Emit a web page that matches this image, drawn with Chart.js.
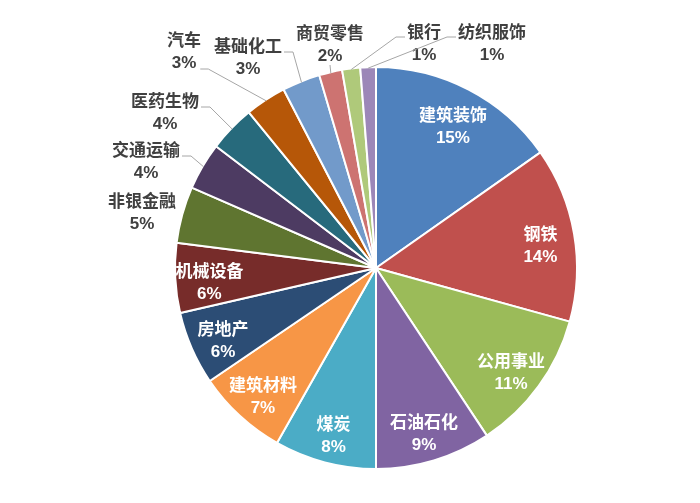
<!DOCTYPE html>
<html>
<head>
<meta charset="utf-8">
<script src="https://cdn.jsdelivr.net/npm/chart.js@4"></script>
<style>
  html, body { margin: 0; padding: 0; background: #fff; }
  #wrap { width: 700px; height: 503px; }
</style>
</head>
<body>
<div id="wrap"><canvas id="pieChart" width="700" height="503"></canvas></div>
<script>
// 行业占比 (%)，顺时针从 12 点开始
const sectors = ['建筑装饰', '钢铁', '公用事业', '石油石化', '煤炭', '建筑材料', '房地产', '机械设备',
                 '非银金融', '交通运输', '医药生物', '汽车', '基础化工', '商贸零售', '银行', '纺织服饰'];
const shares = [15.25, 14.05, 11.4, 9.3, 8.2, 7.3, 5.9, 5.6,
                4.55, 3.8, 3.75, 3.3, 3.05, 1.85, 1.45, 1.25];
const sliceColors = ['#4F81BD', '#C0504D', '#9BBB59', '#8064A2', '#4BACC6', '#F79646', '#2C4D75', '#772C2A',
                     '#5F7530', '#4D3B62', '#276A7C', '#B65708', '#729ACA', '#CD7371', '#AFC97A', '#9C87B8'];

// labels placed outside the pie: text centre offset from pie centre + leader side
const outside = {
    '非银金融': { dx: -234, dy: -66, lead: null },
    '交通运输': { dx: -230, dy: -117, lead: 'right' },
    '医药生物': { dx: -211, dy: -166, lead: 'right' },
    '汽车':     { dx: -192, dy: -227, lead: 'right2' },
    '基础化工': { dx: -128, dy: -221, lead: 'right' },
    '商贸零售': { dx: -46,  dy: -234, lead: 'below' },
    '银行':     { dx: 48,   dy: -235, lead: 'left' },
    '纺织服饰': { dx: 116,  dy: -235, lead: 'left' }
};

const FONT = 'bold 17px "Liberation Sans", "Noto Sans CJK SC", sans-serif';
const LINE_GAP = 22;

const labelPlugin = {
    id: 'sliceLabels',
    afterDatasetsDraw(chart) {
        const ctx = chart.ctx;
        const meta = chart.getDatasetMeta(0);
        const total = shares.reduce((a, b) => a + b, 0);
        ctx.save();
        ctx.font = FONT;
        ctx.textAlign = 'center';
        ctx.textBaseline = 'middle';
        meta.data.forEach((arc, i) => {
            const p = arc.getProps(['x', 'y', 'startAngle', 'endAngle', 'outerRadius'], true);
            const mid = (p.startAngle + p.endAngle) / 2;
            const name = sectors[i];
            const pct = Math.round(shares[i] / total * 100) + '%';
            const o = outside[name];
            if (!o) {
                const r = p.outerRadius * 0.83;
                const cx = p.x + Math.cos(mid) * r;
                const cy = p.y + Math.sin(mid) * r + 7;
                ctx.fillStyle = '#ffffff';
                ctx.fillText(name, cx, cy - LINE_GAP / 2);
                ctx.fillText(pct, cx, cy + LINE_GAP / 2);
                return;
            }
            const cx = p.x + o.dx;
            const y1 = p.y + o.dy;
            const y2 = y1 + LINE_GAP;
            ctx.fillStyle = '#404040';
            ctx.fillText(name, cx, y1);
            ctx.fillText(pct, cx, y2);

            if (o.lead) {
                const ex = p.x + Math.cos(mid) * (p.outerRadius - 1);
                const ey = p.y + Math.sin(mid) * (p.outerRadius - 1);
                const w1 = ctx.measureText(name).width;
                const w2 = ctx.measureText(pct).width;
                let pts;
                if (o.lead === 'right') {
                    const ax = cx + w1 / 2 + 2, ay = y1 + 5;
                    pts = [[ax, ay], [ax + 9, ay], [ex, ey]];
                } else if (o.lead === 'right2') {
                    const ax = cx + w2 / 2 + 4, ay = y2 + 6;
                    pts = [[ax, ay], [ax + 8, ay], [ex, ey]];
                } else if (o.lead === 'left') {
                    const ax = cx - w1 / 2 - 2, ay = y1 + 4;
                    pts = [[ax, ay], [ax - 9, ay], [ex, ey]];
                } else {
                    pts = [[cx, y2 + 9], [ex, ey]];
                }
                ctx.strokeStyle = '#A6A6A6';
                ctx.lineWidth = 1;
                ctx.beginPath();
                pts.forEach(([x, y], k) => k ? ctx.lineTo(x, y) : ctx.moveTo(x, y));
                ctx.stroke();
            }
        });
        ctx.restore();
    }
};

new Chart(document.getElementById('pieChart').getContext('2d'), {
    type: 'pie',
    data: {
        labels: sectors,
        datasets: [{
            data: shares,
            backgroundColor: sliceColors,
            borderColor: '#ffffff',
            borderWidth: 2
        }]
    },
    options: {
        responsive: false,
        animation: false,
        layout: { padding: { top: 66, bottom: 33, left: 174, right: 122 } },
        plugins: {
            legend: { display: false },
            tooltip: { enabled: false }
        }
    },
    plugins: [labelPlugin]
});
</script>
</body>
</html>
